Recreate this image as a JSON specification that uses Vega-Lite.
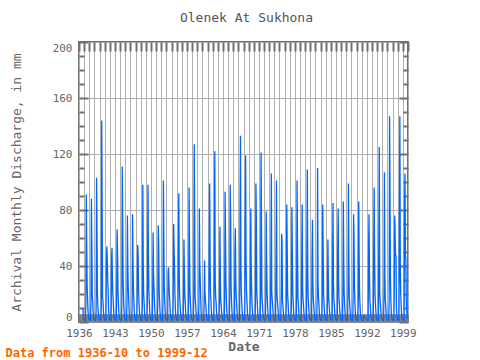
{
"$schema": "https://vega.github.io/schema/vega-lite/v6.json",
"width": 329, "height": 280,
"autosize": {"type": "none"},
"padding": {"left": 79, "top": 42, "right": 72, "bottom": 38},
"background": "white",
"title": {"text": "Olenek At Sukhona", "font": "DejaVu Sans Mono", "fontSize": 13, "fontWeight": "normal", "color": "#555555", "offset": 16, "anchor": "middle", "dx": 3},
"config": {"view": {"stroke": "#707070", "strokeWidth": 2}, "axis": {"domain": false}},
"data": {"values": [
{"t":"1936-10","v":10},{"t":"1936-11","v":4},{"t":"1936-12","v":2.3},
{"t":"1937-01","v":1.6},{"t":"1937-02","v":1.3},{"t":"1937-03","v":1.1},{"t":"1937-04","v":1.2},{"t":"1937-05","v":12},{"t":"1937-06","v":91},{"t":"1937-07","v":56},{"t":"1937-08","v":26},{"t":"1937-09","v":17},{"t":"1937-10","v":8},{"t":"1937-11","v":3.8},{"t":"1937-12","v":2.3},
{"t":"1938-01","v":1.7},{"t":"1938-02","v":1.4},{"t":"1938-03","v":1.2},{"t":"1938-04","v":1.2},{"t":"1938-05","v":17},{"t":"1938-06","v":88},{"t":"1938-07","v":56},{"t":"1938-08","v":18},{"t":"1938-09","v":14},{"t":"1938-10","v":7},{"t":"1938-11","v":3.6},{"t":"1938-12","v":2.2},
{"t":"1939-01","v":1.6},{"t":"1939-02","v":1.3},{"t":"1939-03","v":1.1},{"t":"1939-04","v":1.2},{"t":"1939-05","v":8},{"t":"1939-06","v":103},{"t":"1939-07","v":66},{"t":"1939-08","v":20},{"t":"1939-09","v":12},{"t":"1939-10","v":7},{"t":"1939-11","v":3.8},{"t":"1939-12","v":2.3},
{"t":"1940-01","v":1.8},{"t":"1940-02","v":1.4},{"t":"1940-03","v":1.2},{"t":"1940-04","v":1.3},{"t":"1940-05","v":10},{"t":"1940-06","v":144},{"t":"1940-07","v":85},{"t":"1940-08","v":18},{"t":"1940-09","v":15},{"t":"1940-10","v":8},{"t":"1940-11","v":4},{"t":"1940-12","v":2.4},
{"t":"1941-01","v":1.7},{"t":"1941-02","v":1.4},{"t":"1941-03","v":1.2},{"t":"1941-04","v":1.3},{"t":"1941-05","v":43},{"t":"1941-06","v":54},{"t":"1941-07","v":44},{"t":"1941-08","v":31},{"t":"1941-09","v":22},{"t":"1941-10","v":10},{"t":"1941-11","v":4},{"t":"1941-12","v":2.5},
{"t":"1942-01","v":1.7},{"t":"1942-02","v":1.4},{"t":"1942-03","v":1.2},{"t":"1942-04","v":1.2},{"t":"1942-05","v":44},{"t":"1942-06","v":53},{"t":"1942-07","v":32},{"t":"1942-08","v":20},{"t":"1942-09","v":14},{"t":"1942-10","v":8},{"t":"1942-11","v":3.8},{"t":"1942-12","v":2.3},
{"t":"1943-01","v":1.6},{"t":"1943-02","v":1.3},{"t":"1943-03","v":1.1},{"t":"1943-04","v":1.2},{"t":"1943-05","v":20},{"t":"1943-06","v":66},{"t":"1943-07","v":50},{"t":"1943-08","v":22},{"t":"1943-09","v":14},{"t":"1943-10","v":7},{"t":"1943-11","v":3.7},{"t":"1943-12","v":2.2},
{"t":"1944-01","v":1.6},{"t":"1944-02","v":1.3},{"t":"1944-03","v":1.1},{"t":"1944-04","v":1.2},{"t":"1944-05","v":12},{"t":"1944-06","v":111},{"t":"1944-07","v":73},{"t":"1944-08","v":30},{"t":"1944-09","v":18},{"t":"1944-10","v":9},{"t":"1944-11","v":4.2},{"t":"1944-12","v":2.5},
{"t":"1945-01","v":1.8},{"t":"1945-02","v":1.4},{"t":"1945-03","v":1.2},{"t":"1945-04","v":1.3},{"t":"1945-05","v":14},{"t":"1945-06","v":76},{"t":"1945-07","v":41},{"t":"1945-08","v":25},{"t":"1945-09","v":16},{"t":"1945-10","v":8},{"t":"1945-11","v":3.8},{"t":"1945-12","v":2.3},
{"t":"1946-01","v":1.6},{"t":"1946-02","v":1.3},{"t":"1946-03","v":1.1},{"t":"1946-04","v":1.2},{"t":"1946-05","v":10},{"t":"1946-06","v":77},{"t":"1946-07","v":46},{"t":"1946-08","v":24},{"t":"1946-09","v":16},{"t":"1946-10","v":8},{"t":"1946-11","v":3.8},{"t":"1946-12","v":2.3},
{"t":"1947-01","v":1.6},{"t":"1947-02","v":1.3},{"t":"1947-03","v":1.1},{"t":"1947-04","v":1.2},{"t":"1947-05","v":20},{"t":"1947-06","v":55},{"t":"1947-07","v":49},{"t":"1947-08","v":25},{"t":"1947-09","v":15},{"t":"1947-10","v":8},{"t":"1947-11","v":3.8},{"t":"1947-12","v":2.3},
{"t":"1948-01","v":1.6},{"t":"1948-02","v":1.3},{"t":"1948-03","v":1.1},{"t":"1948-04","v":1.2},{"t":"1948-05","v":15},{"t":"1948-06","v":98},{"t":"1948-07","v":40},{"t":"1948-08","v":20},{"t":"1948-09","v":14},{"t":"1948-10","v":7},{"t":"1948-11","v":3.6},{"t":"1948-12","v":2.2},
{"t":"1949-01","v":1.6},{"t":"1949-02","v":1.3},{"t":"1949-03","v":1.1},{"t":"1949-04","v":1.2},{"t":"1949-05","v":30},{"t":"1949-06","v":98},{"t":"1949-07","v":53},{"t":"1949-08","v":22},{"t":"1949-09","v":15},{"t":"1949-10","v":8},{"t":"1949-11","v":3.8},{"t":"1949-12","v":2.3},
{"t":"1950-01","v":1.6},{"t":"1950-02","v":1.3},{"t":"1950-03","v":1.1},{"t":"1950-04","v":1.2},{"t":"1950-05","v":20},{"t":"1950-06","v":64},{"t":"1950-07","v":34},{"t":"1950-08","v":25},{"t":"1950-09","v":15},{"t":"1950-10","v":8},{"t":"1950-11","v":3.8},{"t":"1950-12","v":2.3},
{"t":"1951-01","v":1.6},{"t":"1951-02","v":1.3},{"t":"1951-03","v":1.1},{"t":"1951-04","v":1.2},{"t":"1951-05","v":15},{"t":"1951-06","v":69},{"t":"1951-07","v":57},{"t":"1951-08","v":25},{"t":"1951-09","v":15},{"t":"1951-10","v":8},{"t":"1951-11","v":3.8},{"t":"1951-12","v":2.3},
{"t":"1952-01","v":1.6},{"t":"1952-02","v":1.3},{"t":"1952-03","v":1.1},{"t":"1952-04","v":1.2},{"t":"1952-05","v":14},{"t":"1952-06","v":101},{"t":"1952-07","v":61},{"t":"1952-08","v":25},{"t":"1952-09","v":15},{"t":"1952-10","v":8},{"t":"1952-11","v":3.8},{"t":"1952-12","v":2.3},
{"t":"1953-01","v":1.6},{"t":"1953-02","v":1.3},{"t":"1953-03","v":1.1},{"t":"1953-04","v":1.2},{"t":"1953-05","v":36},{"t":"1953-06","v":39},{"t":"1953-07","v":27},{"t":"1953-08","v":20},{"t":"1953-09","v":14},{"t":"1953-10","v":7},{"t":"1953-11","v":3.6},{"t":"1953-12","v":2.2},
{"t":"1954-01","v":1.6},{"t":"1954-02","v":1.3},{"t":"1954-03","v":1.1},{"t":"1954-04","v":1.2},{"t":"1954-05","v":18},{"t":"1954-06","v":70},{"t":"1954-07","v":52},{"t":"1954-08","v":39},{"t":"1954-09","v":20},{"t":"1954-10","v":9},{"t":"1954-11","v":4},{"t":"1954-12","v":2.4},
{"t":"1955-01","v":1.7},{"t":"1955-02","v":1.4},{"t":"1955-03","v":1.2},{"t":"1955-04","v":1.3},{"t":"1955-05","v":51},{"t":"1955-06","v":92},{"t":"1955-07","v":35},{"t":"1955-08","v":19},{"t":"1955-09","v":12},{"t":"1955-10","v":7},{"t":"1955-11","v":3.6},{"t":"1955-12","v":2.2},
{"t":"1956-01","v":1.6},{"t":"1956-02","v":1.3},{"t":"1956-03","v":1.1},{"t":"1956-04","v":1.2},{"t":"1956-05","v":14},{"t":"1956-06","v":59},{"t":"1956-07","v":35},{"t":"1956-08","v":20},{"t":"1956-09","v":14},{"t":"1956-10","v":7},{"t":"1956-11","v":3.6},{"t":"1956-12","v":2.2},
{"t":"1957-01","v":1.6},{"t":"1957-02","v":1.3},{"t":"1957-03","v":1.1},{"t":"1957-04","v":1.2},{"t":"1957-05","v":15},{"t":"1957-06","v":96},{"t":"1957-07","v":53},{"t":"1957-08","v":22},{"t":"1957-09","v":15},{"t":"1957-10","v":8},{"t":"1957-11","v":3.8},{"t":"1957-12","v":2.3},
{"t":"1958-01","v":1.7},{"t":"1958-02","v":1.4},{"t":"1958-03","v":1.2},{"t":"1958-04","v":1.3},{"t":"1958-05","v":18},{"t":"1958-06","v":127},{"t":"1958-07","v":79},{"t":"1958-08","v":18},{"t":"1958-09","v":14},{"t":"1958-10","v":8},{"t":"1958-11","v":3.8},{"t":"1958-12","v":2.3},
{"t":"1959-01","v":1.6},{"t":"1959-02","v":1.3},{"t":"1959-03","v":1.1},{"t":"1959-04","v":1.2},{"t":"1959-05","v":14},{"t":"1959-06","v":81},{"t":"1959-07","v":42},{"t":"1959-08","v":30},{"t":"1959-09","v":18},{"t":"1959-10","v":8},{"t":"1959-11","v":3.8},{"t":"1959-12","v":2.3},
{"t":"1960-01","v":1.6},{"t":"1960-02","v":1.3},{"t":"1960-03","v":1.1},{"t":"1960-04","v":1.2},{"t":"1960-05","v":12},{"t":"1960-06","v":44},{"t":"1960-07","v":22},{"t":"1960-08","v":16},{"t":"1960-09","v":12},{"t":"1960-10","v":7},{"t":"1960-11","v":3.5},{"t":"1960-12","v":2.1},
{"t":"1961-01","v":1.5},{"t":"1961-02","v":1.2},{"t":"1961-03","v":1.1},{"t":"1961-04","v":1.2},{"t":"1961-05","v":51},{"t":"1961-06","v":99},{"t":"1961-07","v":46},{"t":"1961-08","v":20},{"t":"1961-09","v":15},{"t":"1961-10","v":8},{"t":"1961-11","v":3.8},{"t":"1961-12","v":2.3},
{"t":"1962-01","v":1.6},{"t":"1962-02","v":1.3},{"t":"1962-03","v":1.1},{"t":"1962-04","v":1.2},{"t":"1962-05","v":61},{"t":"1962-06","v":122},{"t":"1962-07","v":30},{"t":"1962-08","v":18},{"t":"1962-09","v":14},{"t":"1962-10","v":8},{"t":"1962-11","v":3.8},{"t":"1962-12","v":2.3},
{"t":"1963-01","v":1.6},{"t":"1963-02","v":1.3},{"t":"1963-03","v":1.1},{"t":"1963-04","v":1.2},{"t":"1963-05","v":14},{"t":"1963-06","v":68},{"t":"1963-07","v":30},{"t":"1963-08","v":15},{"t":"1963-09","v":12},{"t":"1963-10","v":7},{"t":"1963-11","v":3.5},{"t":"1963-12","v":2.1},
{"t":"1964-01","v":1.5},{"t":"1964-02","v":1.2},{"t":"1964-03","v":1.1},{"t":"1964-04","v":1.2},{"t":"1964-05","v":16},{"t":"1964-06","v":93},{"t":"1964-07","v":61},{"t":"1964-08","v":28},{"t":"1964-09","v":16},{"t":"1964-10","v":8},{"t":"1964-11","v":3.8},{"t":"1964-12","v":2.3},
{"t":"1965-01","v":1.6},{"t":"1965-02","v":1.3},{"t":"1965-03","v":1.1},{"t":"1965-04","v":1.2},{"t":"1965-05","v":20},{"t":"1965-06","v":98},{"t":"1965-07","v":74},{"t":"1965-08","v":25},{"t":"1965-09","v":15},{"t":"1965-10","v":8},{"t":"1965-11","v":3.8},{"t":"1965-12","v":2.3},
{"t":"1966-01","v":1.6},{"t":"1966-02","v":1.3},{"t":"1966-03","v":1.1},{"t":"1966-04","v":1.2},{"t":"1966-05","v":53},{"t":"1966-06","v":67},{"t":"1966-07","v":30},{"t":"1966-08","v":18},{"t":"1966-09","v":13},{"t":"1966-10","v":7},{"t":"1966-11","v":3.6},{"t":"1966-12","v":2.2},
{"t":"1967-01","v":1.6},{"t":"1967-02","v":1.3},{"t":"1967-03","v":1.1},{"t":"1967-04","v":1.2},{"t":"1967-05","v":80},{"t":"1967-06","v":133},{"t":"1967-07","v":40},{"t":"1967-08","v":20},{"t":"1967-09","v":14},{"t":"1967-10","v":8},{"t":"1967-11","v":3.8},{"t":"1967-12","v":2.3},
{"t":"1968-01","v":1.6},{"t":"1968-02","v":1.3},{"t":"1968-03","v":1.1},{"t":"1968-04","v":1.2},{"t":"1968-05","v":75},{"t":"1968-06","v":119},{"t":"1968-07","v":45},{"t":"1968-08","v":22},{"t":"1968-09","v":15},{"t":"1968-10","v":8},{"t":"1968-11","v":3.8},{"t":"1968-12","v":2.3},
{"t":"1969-01","v":1.6},{"t":"1969-02","v":1.3},{"t":"1969-03","v":1.1},{"t":"1969-04","v":1.2},{"t":"1969-05","v":20},{"t":"1969-06","v":81},{"t":"1969-07","v":40},{"t":"1969-08","v":23},{"t":"1969-09","v":13},{"t":"1969-10","v":7},{"t":"1969-11","v":3.6},{"t":"1969-12","v":2.2},
{"t":"1970-01","v":1.6},{"t":"1970-02","v":1.3},{"t":"1970-03","v":1.1},{"t":"1970-04","v":1.2},{"t":"1970-05","v":15},{"t":"1970-06","v":99},{"t":"1970-07","v":74},{"t":"1970-08","v":22},{"t":"1970-09","v":15},{"t":"1970-10","v":8},{"t":"1970-11","v":3.8},{"t":"1970-12","v":2.3},
{"t":"1971-01","v":1.6},{"t":"1971-02","v":1.3},{"t":"1971-03","v":1.1},{"t":"1971-04","v":1.2},{"t":"1971-05","v":20},{"t":"1971-06","v":121},{"t":"1971-07","v":72},{"t":"1971-08","v":20},{"t":"1971-09","v":14},{"t":"1971-10","v":8},{"t":"1971-11","v":3.8},{"t":"1971-12","v":2.3},
{"t":"1972-01","v":1.6},{"t":"1972-02","v":1.3},{"t":"1972-03","v":1.1},{"t":"1972-04","v":1.2},{"t":"1972-05","v":15},{"t":"1972-06","v":79},{"t":"1972-07","v":43},{"t":"1972-08","v":22},{"t":"1972-09","v":14},{"t":"1972-10","v":7},{"t":"1972-11","v":3.6},{"t":"1972-12","v":2.2},
{"t":"1973-01","v":1.6},{"t":"1973-02","v":1.3},{"t":"1973-03","v":1.1},{"t":"1973-04","v":1.2},{"t":"1973-05","v":51},{"t":"1973-06","v":106},{"t":"1973-07","v":22},{"t":"1973-08","v":16},{"t":"1973-09","v":12},{"t":"1973-10","v":7},{"t":"1973-11","v":3.6},{"t":"1973-12","v":2.2},
{"t":"1974-01","v":1.6},{"t":"1974-02","v":1.3},{"t":"1974-03","v":1.1},{"t":"1974-04","v":1.2},{"t":"1974-05","v":53},{"t":"1974-06","v":101},{"t":"1974-07","v":22},{"t":"1974-08","v":16},{"t":"1974-09","v":12},{"t":"1974-10","v":7},{"t":"1974-11","v":3.6},{"t":"1974-12","v":2.2},
{"t":"1975-01","v":1.6},{"t":"1975-02","v":1.3},{"t":"1975-03","v":1.1},{"t":"1975-04","v":1.2},{"t":"1975-05","v":20},{"t":"1975-06","v":63},{"t":"1975-07","v":58},{"t":"1975-08","v":15},{"t":"1975-09","v":12},{"t":"1975-10","v":7},{"t":"1975-11","v":3.6},{"t":"1975-12","v":2.2},
{"t":"1976-01","v":1.6},{"t":"1976-02","v":1.3},{"t":"1976-03","v":1.1},{"t":"1976-04","v":1.2},{"t":"1976-05","v":15},{"t":"1976-06","v":84},{"t":"1976-07","v":55},{"t":"1976-08","v":20},{"t":"1976-09","v":14},{"t":"1976-10","v":7},{"t":"1976-11","v":3.6},{"t":"1976-12","v":2.2},
{"t":"1977-01","v":1.6},{"t":"1977-02","v":1.3},{"t":"1977-03","v":1.1},{"t":"1977-04","v":1.2},{"t":"1977-05","v":15},{"t":"1977-06","v":82},{"t":"1977-07","v":50},{"t":"1977-08","v":22},{"t":"1977-09","v":14},{"t":"1977-10","v":7},{"t":"1977-11","v":3.6},{"t":"1977-12","v":2.2},
{"t":"1978-01","v":1.6},{"t":"1978-02","v":1.3},{"t":"1978-03","v":1.1},{"t":"1978-04","v":1.2},{"t":"1978-05","v":20},{"t":"1978-06","v":101},{"t":"1978-07","v":63},{"t":"1978-08","v":18},{"t":"1978-09","v":13},{"t":"1978-10","v":7},{"t":"1978-11","v":3.6},{"t":"1978-12","v":2.2},
{"t":"1979-01","v":1.6},{"t":"1979-02","v":1.3},{"t":"1979-03","v":1.1},{"t":"1979-04","v":1.2},{"t":"1979-05","v":43},{"t":"1979-06","v":84},{"t":"1979-07","v":25},{"t":"1979-08","v":16},{"t":"1979-09","v":12},{"t":"1979-10","v":7},{"t":"1979-11","v":3.6},{"t":"1979-12","v":2.2},
{"t":"1980-01","v":1.6},{"t":"1980-02","v":1.3},{"t":"1980-03","v":1.1},{"t":"1980-04","v":1.2},{"t":"1980-05","v":55},{"t":"1980-06","v":109},{"t":"1980-07","v":35},{"t":"1980-08","v":18},{"t":"1980-09","v":12},{"t":"1980-10","v":7},{"t":"1980-11","v":3.6},{"t":"1980-12","v":2.2},
{"t":"1981-01","v":1.6},{"t":"1981-02","v":1.3},{"t":"1981-03","v":1.1},{"t":"1981-04","v":1.2},{"t":"1981-05","v":48},{"t":"1981-06","v":73},{"t":"1981-07","v":28},{"t":"1981-08","v":16},{"t":"1981-09","v":12},{"t":"1981-10","v":7},{"t":"1981-11","v":3.6},{"t":"1981-12","v":2.2},
{"t":"1982-01","v":1.6},{"t":"1982-02","v":1.3},{"t":"1982-03","v":1.1},{"t":"1982-04","v":1.2},{"t":"1982-05","v":20},{"t":"1982-06","v":110},{"t":"1982-07","v":28},{"t":"1982-08","v":18},{"t":"1982-09","v":13},{"t":"1982-10","v":7},{"t":"1982-11","v":3.6},{"t":"1982-12","v":2.2},
{"t":"1983-01","v":1.6},{"t":"1983-02","v":1.3},{"t":"1983-03","v":1.1},{"t":"1983-04","v":1.2},{"t":"1983-05","v":20},{"t":"1983-06","v":84},{"t":"1983-07","v":51},{"t":"1983-08","v":20},{"t":"1983-09","v":13},{"t":"1983-10","v":7},{"t":"1983-11","v":3.6},{"t":"1983-12","v":2.2},
{"t":"1984-01","v":1.6},{"t":"1984-02","v":1.3},{"t":"1984-03","v":1.1},{"t":"1984-04","v":1.2},{"t":"1984-05","v":15},{"t":"1984-06","v":59},{"t":"1984-07","v":32},{"t":"1984-08","v":16},{"t":"1984-09","v":12},{"t":"1984-10","v":7},{"t":"1984-11","v":3.6},{"t":"1984-12","v":2.2},
{"t":"1985-01","v":1.6},{"t":"1985-02","v":1.3},{"t":"1985-03","v":1.1},{"t":"1985-04","v":1.2},{"t":"1985-05","v":44},{"t":"1985-06","v":85},{"t":"1985-07","v":28},{"t":"1985-08","v":16},{"t":"1985-09","v":12},{"t":"1985-10","v":7},{"t":"1985-11","v":3.6},{"t":"1985-12","v":2.2},
{"t":"1986-01","v":1.6},{"t":"1986-02","v":1.3},{"t":"1986-03","v":1.1},{"t":"1986-04","v":1.2},{"t":"1986-05","v":51},{"t":"1986-06","v":81},{"t":"1986-07","v":30},{"t":"1986-08","v":16},{"t":"1986-09","v":12},{"t":"1986-10","v":7},{"t":"1986-11","v":3.6},{"t":"1986-12","v":2.2},
{"t":"1987-01","v":1.6},{"t":"1987-02","v":1.3},{"t":"1987-03","v":1.1},{"t":"1987-04","v":1.2},{"t":"1987-05","v":20},{"t":"1987-06","v":86},{"t":"1987-07","v":44},{"t":"1987-08","v":20},{"t":"1987-09","v":13},{"t":"1987-10","v":7},{"t":"1987-11","v":3.6},{"t":"1987-12","v":2.2},
{"t":"1988-01","v":1.6},{"t":"1988-02","v":1.3},{"t":"1988-03","v":1.1},{"t":"1988-04","v":1.2},{"t":"1988-05","v":26},{"t":"1988-06","v":99},{"t":"1988-07","v":42},{"t":"1988-08","v":18},{"t":"1988-09","v":12},{"t":"1988-10","v":7},{"t":"1988-11","v":3.6},{"t":"1988-12","v":2.2},
{"t":"1989-01","v":1.6},{"t":"1989-02","v":1.3},{"t":"1989-03","v":1.1},{"t":"1989-04","v":1.2},{"t":"1989-05","v":20},{"t":"1989-06","v":77},{"t":"1989-07","v":60},{"t":"1989-08","v":25},{"t":"1989-09","v":14},{"t":"1989-10","v":7},{"t":"1989-11","v":3.6},{"t":"1989-12","v":2.2},
{"t":"1990-01","v":1.6},{"t":"1990-02","v":1.3},{"t":"1990-03","v":1.1},{"t":"1990-04","v":1.2},{"t":"1990-05","v":15},{"t":"1990-06","v":86},{"t":"1990-07","v":47},{"t":"1990-08","v":20},{"t":"1990-09","v":12},{"t":"1990-10","v":6},{"t":"1990-11","v":3.4},{"t":"1990-12","v":2.1},
{"t":"1991-01","v":1.5},{"t":"1991-02","v":1.2},{"t":"1991-03","v":1.1},{"t":"1991-04","v":1.2},{"t":"1991-05","v":3},{"t":"1991-06","v":5},{"t":"1991-07","v":4},{"t":"1991-08","v":3.5},{"t":"1991-09","v":3},{"t":"1991-10","v":3},{"t":"1991-11","v":2.5},{"t":"1991-12","v":2},
{"t":"1992-01","v":1.5},{"t":"1992-02","v":1.2},{"t":"1992-03","v":1.1},{"t":"1992-04","v":1.2},{"t":"1992-05","v":53},{"t":"1992-06","v":77},{"t":"1992-07","v":36},{"t":"1992-08","v":15},{"t":"1992-09","v":12},{"t":"1992-10","v":6},{"t":"1992-11","v":3.4},{"t":"1992-12","v":2.1},
{"t":"1993-01","v":1.5},{"t":"1993-02","v":1.2},{"t":"1993-03","v":1.1},{"t":"1993-04","v":1.2},{"t":"1993-05","v":54},{"t":"1993-06","v":96},{"t":"1993-07","v":49},{"t":"1993-08","v":20},{"t":"1993-09","v":13},{"t":"1993-10","v":7},{"t":"1993-11","v":3.6},{"t":"1993-12","v":2.2},
{"t":"1994-01","v":1.6},{"t":"1994-02","v":1.3},{"t":"1994-03","v":1.1},{"t":"1994-04","v":1.2},{"t":"1994-05","v":65},{"t":"1994-06","v":125},{"t":"1994-07","v":22},{"t":"1994-08","v":15},{"t":"1994-09","v":11},{"t":"1994-10","v":6},{"t":"1994-11","v":3.4},{"t":"1994-12","v":2.1},
{"t":"1995-01","v":1.5},{"t":"1995-02","v":1.2},{"t":"1995-03","v":1.1},{"t":"1995-04","v":1.2},{"t":"1995-05","v":20},{"t":"1995-06","v":107},{"t":"1995-07","v":34},{"t":"1995-08","v":16},{"t":"1995-09","v":12},{"t":"1995-10","v":6},{"t":"1995-11","v":3.4},{"t":"1995-12","v":2.1},
{"t":"1996-01","v":1.5},{"t":"1996-02","v":1.2},{"t":"1996-03","v":1.1},{"t":"1996-04","v":1.2},{"t":"1996-05","v":15},{"t":"1996-06","v":147},{"t":"1996-07","v":89},{"t":"1996-08","v":32},{"t":"1996-09","v":15},{"t":"1996-10","v":7},{"t":"1996-11","v":3.6},{"t":"1996-12","v":2.2},
{"t":"1997-01","v":1.6},{"t":"1997-02","v":1.3},{"t":"1997-03","v":1.1},{"t":"1997-04","v":1.2},{"t":"1997-05","v":20},{"t":"1997-06","v":76},{"t":"1997-07","v":61},{"t":"1997-08","v":48},{"t":"1997-09","v":47},{"t":"1997-10","v":10},{"t":"1997-11","v":3.8},{"t":"1997-12","v":2.3},
{"t":"1998-01","v":1.6},{"t":"1998-02","v":1.3},{"t":"1998-03","v":1.1},{"t":"1998-04","v":1.2},{"t":"1998-05","v":74},{"t":"1998-06","v":147},{"t":"1998-07","v":42},{"t":"1998-08","v":20},{"t":"1998-09","v":12},{"t":"1998-10","v":6},{"t":"1998-11","v":3.4},{"t":"1998-12","v":2.1},
{"t":"1999-01","v":1.5},{"t":"1999-02","v":1.2},{"t":"1999-03","v":1.1},{"t":"1999-04","v":1.2},{"t":"1999-05","v":85},{"t":"1999-06","v":106},{"t":"1999-07","v":47},{"t":"1999-08","v":46},{"t":"1999-09","v":15},{"t":"1999-10","v":7},{"t":"1999-11","v":3.8},{"t":"1999-12","v":2.3}
]},
"layer": [
{"mark": {"type": "line", "color": "#0066ff", "strokeWidth": 1.3},
 "encoding": {
  "x": {"field": "t", "type": "temporal",
   "scale": {"type": "utc", "domain": [{"year": 1936, "month": 1, "date": 1, "utc": true}, {"year": 2000, "month": 1, "date": 1, "utc": true}]},
   "axis": {"orient": "bottom", "tickCount": {"interval": "year", "step": 1}, "grid": true, "gridColor": "#b0b0b0", "gridWidth": 1, "ticks": false,
    "labelExpr": "utcyear(datum.value) % 7 == 4 ? utcFormat(datum.value, '%Y') : ''",
    "labelFont": "DejaVu Sans Mono", "labelFontSize": 11, "labelColor": "#666666", "labelPadding": 5, "labelFlush": false, "labelOverlap": false,
    "title": "Date", "titleFont": "DejaVu Sans Mono", "titleFontSize": 13, "titleFontWeight": "bold", "titleColor": "#666666", "titlePadding": 2}},
  "y": {"field": "v", "type": "quantitative", "scale": {"domain": [0, 200]},
   "axis": {"orient": "left", "values": [0, 40, 80, 120, 160, 200], "grid": true, "gridColor": "#b0b0b0", "gridWidth": 1, "ticks": false,
    "labelFont": "DejaVu Sans Mono", "labelFontSize": 11, "labelColor": "#666666", "labelPadding": 7, "labelFlush": true,
    "title": "Archival Monthly Discharge, in mm", "titleFont": "DejaVu Sans Mono", "titleFontSize": 13, "titleFontWeight": "normal", "titleColor": "#666666", "titlePadding": 29}}
 }},
{"mark": {"type": "line", "strokeOpacity": 0},
 "encoding": {
  "x": {"field": "t", "type": "temporal",
   "axis": {"orient": "top", "tickCount": {"interval": "year", "step": 1}, "grid": false, "labels": false, "title": null, "tickSize": -9, "tickWidth": 2, "tickColor": "#707070"}},
  "y": {"field": "v", "type": "quantitative",
   "axis": {"orient": "right", "values": [0, 10, 20, 30, 40, 50, 60, 70, 80, 90, 100, 110, 120, 130, 140, 150, 160, 170, 180, 190, 200], "grid": false, "labels": false, "title": null,
    "tickSize": {"condition": {"test": "datum.value % 40 == 0", "value": -9}, "value": -5}, "tickWidth": 2, "tickColor": "#707070"}}
 }},
{"mark": {"type": "line", "strokeOpacity": 0},
 "encoding": {
  "x": {"field": "t", "type": "temporal",
   "axis": {"orient": "bottom", "tickCount": {"interval": "month", "step": 1}, "grid": false, "labels": false, "tickSize": -8, "tickWidth": 1, "tickColor": "#808080",
    "title": "Data from 1936-10 to 1999-12", "titleFont": "DejaVu Sans Mono", "titleFontSize": 12, "titleFontWeight": "bold", "titleColor": "#ff6600",
    "titleAnchor": "start", "titleAlign": "left", "titleBaseline": "middle", "titleX": -74, "titleY": 30}},
  "y": {"field": "v", "type": "quantitative",
   "axis": {"orient": "left", "values": [0, 10, 20, 30, 40, 50, 60, 70, 80, 90, 100, 110, 120, 130, 140, 150, 160, 170, 180, 190, 200], "grid": false, "labels": false, "title": null,
    "tickSize": {"condition": {"test": "datum.value % 40 == 0", "value": -9}, "value": -5}, "tickWidth": 2, "tickColor": "#707070"}}
 }}
],
"resolve": {"axis": {"x": "independent", "y": "independent"}}
}
